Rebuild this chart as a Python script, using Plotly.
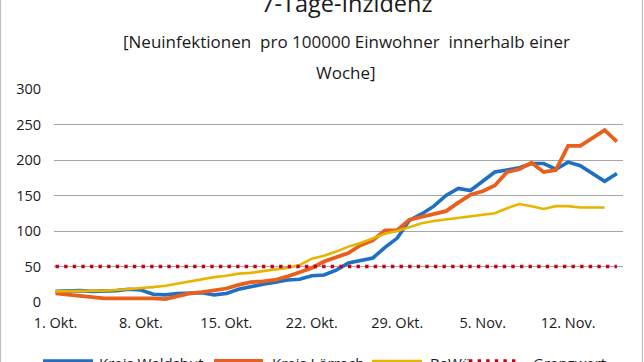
import pandas as pd
import plotly.graph_objects as go

# ---- data ----
dates = pd.date_range("2020-10-01", "2020-11-16", freq="D")

waldshut = [15, 16, 16, 15, 15, 16, 18, 17, 11, 10,
            12, 13, 13, 10, 12, 18, 22, 25, 28, 31,
            32, 37, 38, 45, 55, 58, 62, 77, 90, 115,
            124, 135, 150, 160, 157, 170, 183, 186, 189, 195,
            195, 187, 197, 192, 181, 170, 181]

loerrach = [12, 10, 8, 6, 5, 5, 5, 6, 5, 4,
            8, 12, 14, 16, 19, 24, 28, 29, 31, 36,
            42, 48, 57, 63, 69, 80, 87, 101, 101, 116,
            120, 123, 128, 140, 151, 156, 164, 183, 187, 196,
            183, 186, 220, 220, 231, 242, 226]

bawue = [15, 15, 15, 16, 16, 17, 18, 19, 21, 23,
         26, 30, 32, 35, 37, 40, 41, 44, 46, 48,
         52, 61, 65, 71, 78, 83, 90, 96, 100, 106,
         111, 114, 116, 118, 120, 122, 125, 132, 138, 135,
         131, 135, 135, 133, 133, 133, None]

grenzwert = [50] * len(dates)

series_names = ["Kreis Waldshut", "Kreis Lörrach", "BaWü", "Grenzwert"]

tick_dates = ["2020-10-01", "2020-10-08", "2020-10-15", "2020-10-22",
              "2020-10-29", "2020-11-05", "2020-11-12"]
tick_labels = ["1. Okt.", "8. Okt.", "15. Okt.", "22. Okt.",
               "29. Okt.", "5. Nov.", "12. Nov."]
y_ticks = [0, 50, 100, 150, 200, 250, 300]

title = "7-Tage-Inzidenz"
subtitle1 = "[Neuinfektionen  pro 100000 Einwohner  innerhalb einer"
subtitle2 = "Woche]"

FONT = "Open Sans"
TXT = "#1a1a1a"

# plot area in pixels (for placing decorations)
L, R, T, B = 54, 623, 89, 302
PW, PH = R - L, B - T


def px(x):
    return (x - L) / PW


def py(y):
    return (B - y) / PH


styles = [
    dict(color="#1f6fc4", width=3.6),
    dict(color="#e8601c", width=3.8),
    dict(color="#e8b400", width=2.6),
    dict(color="#c8001a", width=3.4, dash="3.4px,5.2px"),
]
values = [waldshut, loerrach, bawue, grenzwert]

fig = go.Figure()
for name, vals, st in zip(series_names, values, styles):
    fig.add_trace(go.Scatter(x=dates, y=vals, name=name, mode="lines", line=st,
                             showlegend=False))

fig.update_layout(
    width=644, height=362,
    margin=dict(l=L, r=644 - R, t=T, b=362 - B),
    paper_bgcolor="white", plot_bgcolor="white",
    font=dict(family=FONT, color=TXT, size=14.5),
    showlegend=False,
    xaxis=dict(type="date", automargin=False,
               range=["2020-09-30 21:00", "2020-11-16 12:00"],
               tickmode="array", tickvals=tick_dates, ticktext=tick_labels,
               showgrid=False, zeroline=False, showline=False, ticks="",
               ticklabelstandoff=10,
               tickfont=dict(size=14.5, color=TXT)),
    yaxis=dict(range=[0, 300], tickmode="array", tickvals=y_ticks, automargin=False,
               showgrid=True, gridcolor="#a6a6a6", gridwidth=1.3,
               zeroline=False, showline=False, ticks="",
               ticklabelstandoff=12,
               tickfont=dict(size=14.5, color=TXT)),
)

fig.add_annotation(text=title, xref="paper", yref="paper",
                   x=px(347), y=py(3), xanchor="center", yanchor="middle",
                   showarrow=False, font=dict(size=23.5, color=TXT))
fig.add_annotation(text=subtitle1, xref="paper", yref="paper",
                   x=px(346), y=py(42), xanchor="center", yanchor="middle",
                   showarrow=False, font=dict(size=17, color=TXT))
fig.add_annotation(text=subtitle2, xref="paper", yref="paper",
                   x=px(346), y=py(72), xanchor="center", yanchor="middle",
                   showarrow=False, font=dict(size=17, color=TXT))

# manual legend (bottom, partially cut off like the reference)
leg_line_x = [(43, 93), (214, 263), (372, 422), (469, 519)]
leg_text_x = [97, 270, 428, 531]
for name, st, (a, b), tx in zip(series_names, styles, leg_line_x, leg_text_x):
    fig.add_shape(type="line", xref="paper", yref="paper",
                  x0=px(a), x1=px(b), y0=py(361), y1=py(361), line=st)
    fig.add_annotation(text=name, xref="paper", yref="paper",
                       x=px(tx), y=py(363), xanchor="left", yanchor="middle",
                       showarrow=False, font=dict(size=15, color=TXT))

# outer chart frame
fig.add_shape(type="rect", xref="paper", yref="paper",
              x0=px(0.5), x1=px(642.5), y0=py(420), y1=py(-40),
              line=dict(color="#c0c0c0", width=1.2), fillcolor="rgba(0,0,0,0)", layer="below")

fig.write_html("out.html", config={"displayModeBar": False},
               post_script="document.body.style.margin='0px';")
